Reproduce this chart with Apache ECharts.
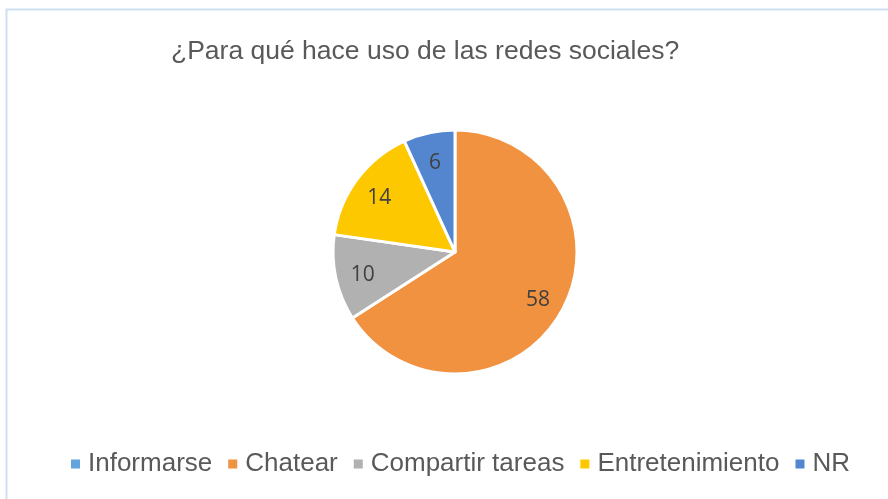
<!DOCTYPE html>
<html>
<head>
<meta charset="utf-8">
<script src="https://cdn.jsdelivr.net/npm/echarts@6/dist/echarts.min.js"></script>
<style>
  html, body { margin: 0; padding: 0; background: #fff; }
  #redesChart { width: 888px; height: 499px; }
</style>
</head>
<body>
<div id="redesChart"></div>
<script>
// datos del gráfico
var categorias = ['Informarse', 'Chatear', 'Compartir tareas', 'Entretenimiento', 'NR']
var valores = [0, 58, 10, 14, 6]
var colores = ['#62A5DC', '#F19241', '#B1B1B1', '#FEC800', '#5486D0']

var datos = categorias.map(function(c, i) {
  return { name: c, value: valores[i], itemStyle: { color: colores[i] } }
})

var chart = echarts.init(document.getElementById('redesChart'))
chart.setOption({
  backgroundColor: '#fff',
  animation: false,
  title: {
    text: '¿Para qué hace uso de las redes sociales?',
    left: 166,
    top: 33,
    textStyle: {
      fontFamily: 'Liberation Sans, Arial',
      fontSize: 26.5,
      fontWeight: 'normal',
      color: '#595959'
    }
  },
  legend: {
    data: categorias,
    left: 64,
    top: 446,
    icon: 'rect',
    itemWidth: 11,
    itemHeight: 11,
    itemGap: 14,
    textStyle: {
      fontFamily: 'Liberation Sans, Arial',
      fontSize: 26,
      color: '#595959',
      padding: [0, 0, 0, 2]
    }
  },
  graphic: [{
    type: 'rect',
    shape: { x: 6.5, y: 9.5, width: 1000, height: 1000 },
    style: { fill: 'none', stroke: '#CFE0F2', lineWidth: 2 },
    silent: true,
    z: -1
  }],
  series: [
    {
      name: 'redes',
      type: 'pie',
      center: [455, 252],
      radius: 122,
      startAngle: 90,
      clockwise: true,
      data: datos,
      label: { show: false },
      labelLine: { show: false },
      itemStyle: { borderColor: '#fff', borderWidth: 3 },
      emphasis: { disabled: true }
    },
    {
      // serie auxiliar solo para colocar las etiquetas más afuera
      name: 'etiquetas',
      type: 'pie',
      center: [455, 252],
      radius: [61, 122],
      startAngle: 90,
      clockwise: true,
      silent: true,
      data: categorias.map(function(c, i) { return { name: c, value: valores[i] } }),
      itemStyle: { color: 'rgba(0,0,0,0)' },
      label: {
        show: true,
        position: 'inside',
        offset: [0, 3],
        fontFamily: 'Open Sans, Noto Sans',
        fontSize: 21,
        color: '#404040',
        formatter: function(p) { return p.value === 0 ? '' : p.value }
      },
      labelLine: { show: false },
      emphasis: { disabled: true }
    }
  ]
})
</script>
</body>
</html>
